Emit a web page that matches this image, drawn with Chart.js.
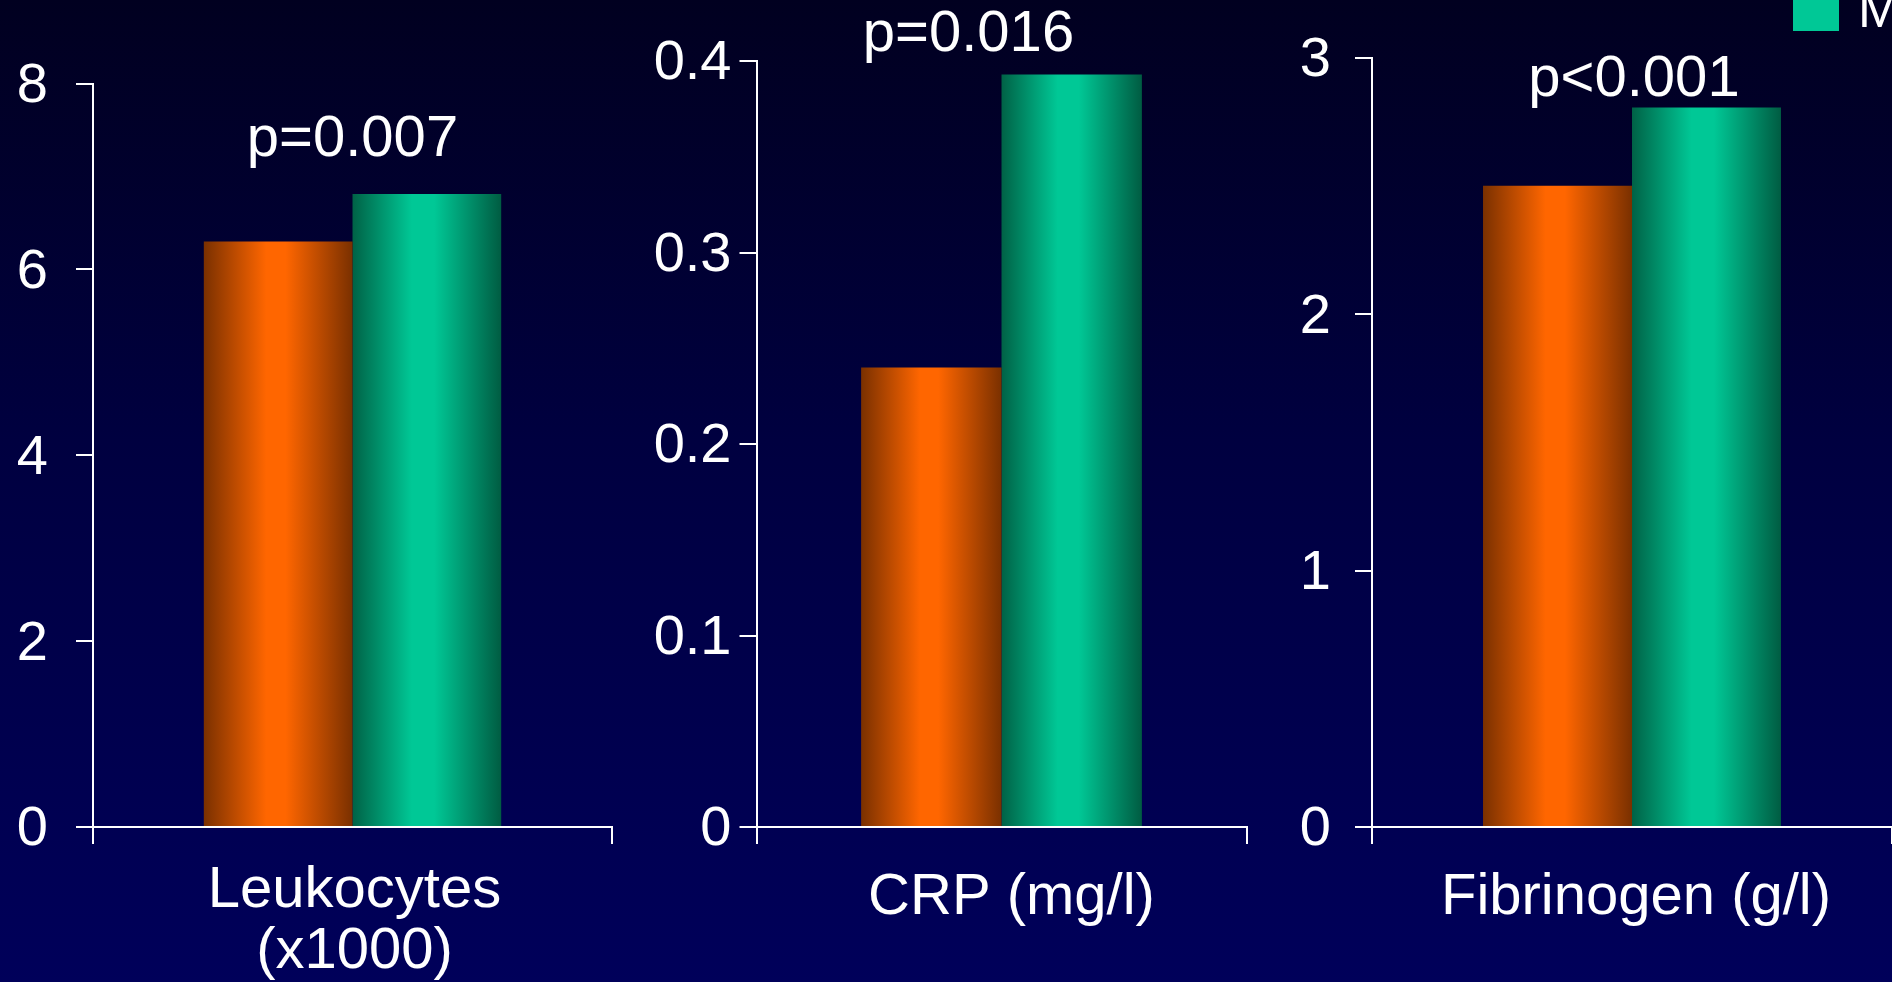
<!DOCTYPE html>
<html>
<head>
<meta charset="utf-8">
<script src="https://cdn.jsdelivr.net/npm/chart.js@4.4.1/dist/chart.umd.min.js"></script>
<style>
  html, body { margin: 0; padding: 0; }
  body {
    width: 1892px; height: 982px; overflow: hidden; position: relative;
    background: linear-gradient(to bottom, #010020 0%, #000040 45%, #00005a 100%);
  }
  .panel { position: absolute; top: 0; height: 982px; }
</style>
</head>
<body>
<div class="panel" style="left:0;width:640px"><canvas id="c0"></canvas></div>
<div class="panel" style="left:640px;width:620px"><canvas id="c1"></canvas></div>
<div class="panel" style="left:1260px;width:632px"><canvas id="c2"></canvas></div>

<script>
// data
const categories = [['Leukocytes', '(x1000)'], ['CRP (mg/l)'], ['Fibrinogen (g/l)']];
const seriesNames = ['Controls', 'MI'];
const controlValues = [6.30, 0.240, 2.50];
const caseValues = [6.81, 0.393, 2.805];
const yMax = [8, 0.4, 3];
const yStep = [2, 0.1, 1];
const pLabels = ['p=0.007', 'p=0.016', 'p<0.001'];

const FONT = '"Liberation Sans", Arial, sans-serif';

// layout of each panel (canvas-relative)
const panels = [
    { id: 'c0', top: 83.5, right: 28, axisW: 93, tickPad: 28, labelPad: 17, labelDx: 2, pY: 7.22, pDx: 0 },
    { id: 'c1', top: 61, right: 13.5, axisW: 116.5, tickPad: 8, labelPad: 24, labelDx: 10, pY: 0.405, pDx: -33 },
    { id: 'c2', top: 53, right: 0, axisW: 112, tickPad: 24, labelPad: 24, labelDx: 4, pY: 2.85, pDx: 2 }
];

// shaded "cylinder" look for the bars
const shades = [
    [[0, '#7a3000'], [0.42, '#ff6600'], [0.55, '#ff6600'], [1, '#7a3000']],
    [[0, '#006246'], [0.40, '#00c896'], [0.55, '#00c896'], [1, '#005c42']]
];

const barShading = {
    id: 'barShading',
    beforeDatasetsDraw(chart) {
        const ctx = chart.ctx;
        chart.data.datasets.forEach((ds, i) => {
            chart.getDatasetMeta(i).data.forEach(el => {
                const { x, width } = el.getProps(['x', 'width'], true);
                const g = ctx.createLinearGradient(x - width / 2, 0, x + width / 2, 0);
                shades[i].forEach(s => g.addColorStop(s[0], s[1]));
                el.options = Object.assign({}, el.options, { backgroundColor: g });
            });
        });
    }
};

const pValueLabel = {
    id: 'pValueLabel',
    afterDraw(chart, args, opts) {
        const ctx = chart.ctx;
        const xs = chart.scales.x, ys = chart.scales.y;
        ctx.save();
        ctx.fillStyle = '#ffffff';
        ctx.font = '58px ' + FONT;
        ctx.textAlign = 'center';
        ctx.textBaseline = 'alphabetic';
        ctx.fillText(opts.text, xs.getPixelForValue(0) + opts.dx, ys.getPixelForValue(opts.y));
        ctx.restore();
    }
};

// legend sits in the top-right corner, mostly cut off by the slide edge
const cornerLegend = {
    id: 'cornerLegend',
    afterDraw(chart, args, opts) {
        if (!opts.show) return;
        const ctx = chart.ctx;
        ctx.save();
        ctx.font = '52px ' + FONT;
        ctx.textBaseline = 'alphabetic';
        for (let i = seriesNames.length - 1; i >= 0; i--) {
            const rowTop = -15 - (seriesNames.length - 1 - i) * 70;
            ctx.fillStyle = shades[i][1][1];
            ctx.fillRect(533, rowTop, 46, 46);
            ctx.fillStyle = '#ffffff';
            ctx.fillText(seriesNames[i], 598, rowTop + 41.5);
        }
        ctx.restore();
    }
};

panels.forEach((p, k) => {
    new Chart(document.getElementById(p.id), {
        type: 'bar',
        data: {
            labels: [categories[k]],
            datasets: [
                { label: seriesNames[0], data: [controlValues[k]], backgroundColor: '#ff6600' },
                { label: seriesNames[1], data: [caseValues[k]], backgroundColor: '#00c896' }
            ]
        },
        options: {
            responsive: true,
            maintainAspectRatio: false,
            animation: false,
            layout: { padding: { top: p.top, right: p.right, left: 0, bottom: 0 } },
            datasets: { bar: { barPercentage: 1, categoryPercentage: 0.573, borderWidth: 0 } },
            plugins: {
                legend: { display: false },
                tooltip: { enabled: false },
                pValueLabel: { text: pLabels[k], y: p.pY, dx: p.pDx },
                cornerLegend: { show: k === 2 }
            },
            scales: {
                x: {
                    afterFit(scale) { scale.height = 982 - 827; },
                    border: { color: '#ffffff', width: 2 },
                    grid: { drawOnChartArea: false, color: '#ffffff', lineWidth: 2, tickLength: 17 },
                    ticks: {
                        color: '#ffffff',
                        padding: p.labelPad,
                        labelOffset: p.labelDx,
                        font: { family: FONT, size: 58, lineHeight: 1.05 }
                    }
                },
                y: {
                    min: 0,
                    max: yMax[k],
                    afterFit(scale) { scale.width = p.axisW; },
                    border: { color: '#ffffff', width: 2 },
                    grid: { drawOnChartArea: false, color: '#ffffff', lineWidth: 2, tickLength: 17 },
                    ticks: {
                        stepSize: yStep[k],
                        color: '#ffffff',
                        padding: p.tickPad,
                        labelOffset: 3,
                        font: { family: FONT, size: 56 }
                    }
                }
            }
        },
        plugins: [barShading, pValueLabel, cornerLegend]
    });
});
</script>
</body>
</html>
